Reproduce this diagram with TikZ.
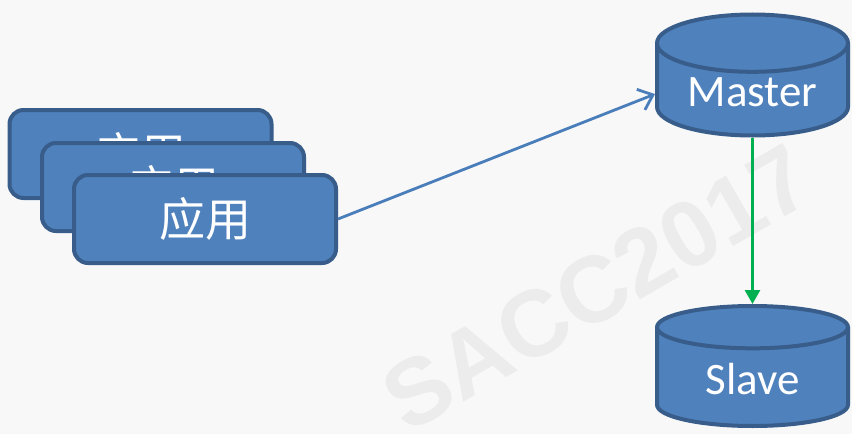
\documentclass[tikz,border=0pt]{standalone}
\usepackage{fontspec}
\usepackage{tikz}
\usetikzlibrary{shapes,shapes.geometric,positioning,calc,arrows.meta}
\newfontfamily\cjk{Noto Sans CJK SC}
\newfontfamily\calfont{Carlito}
\newfontfamily\wmfont{Liberation Sans}
\definecolor{boxfill}{HTML}{4F81BD}
\definecolor{boxline}{HTML}{385D8A}
\definecolor{arrowblue}{HTML}{4A7EBB}
\definecolor{arrowgreen}{HTML}{00B050}
\definecolor{bggray}{HTML}{F8F8F8}
\definecolor{wmgray}{HTML}{ECECEC}

\begin{document}
\begin{tikzpicture}
  [x=1pt,y=-1pt,
   appN/.style={rectangle,rounded corners=14pt,draw=boxline,fill=boxfill,
     line width=4pt,minimum width=262pt,minimum height=88pt,
     text=white,font=\cjk\fontsize{46}{46}\selectfont},
   dbN/.style={cylinder,shape border rotate=90,aspect=0.42,draw=boxline,
     fill=boxfill,line width=4pt,minimum width=191pt,minimum height=120pt,
     text=white,font=\calfont\fontsize{45}{45}\selectfont},
   thick]

  \useasboundingbox (0,0) rectangle (852,434);
  \fill [bggray] (0,0) rectangle (852,434);

  % watermark
  \node[rotate=30,text=wmgray,font=\wmfont\bfseries\fontsize{94}{94}\selectfont] (wm) at (597,288) {SACC2017};

  \node[appN] (app1) at (140.5,154) {应用};
  \node[appN] (app2) at (173,187)   {应用};
  \node[appN] (app3) at (205,219)   {应用};

  \node[dbN,anchor=shape center] (master) at (752.5,75)  {\raisebox{5pt}{Master}};
  \node[dbN,anchor=shape center] (slave)  at (752.5,366) {\raisebox{3pt}{Slave}};

  \draw [arrowblue,line width=2.8pt,-{Straight Barb[length=13pt,width=22pt]}] (app3.east) -- (master.west);
  \draw [arrowgreen,line width=2.8pt,-{Triangle[length=14pt,width=15pt]}] (master.south) -- (slave.north);
\end{tikzpicture}
\end{document}
